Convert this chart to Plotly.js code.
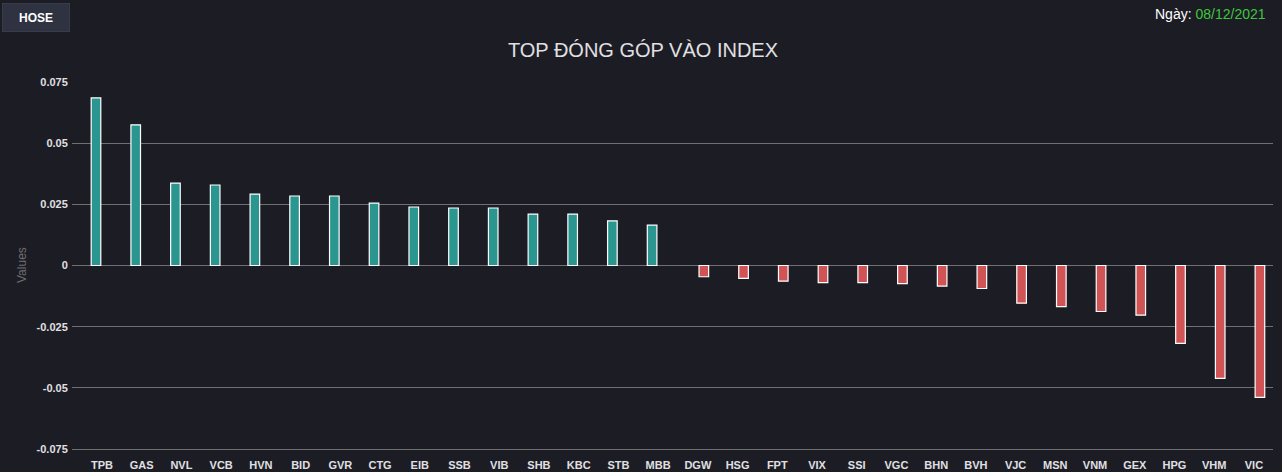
<!DOCTYPE html>
<html>
<head>
<meta charset="utf-8">
<script src="https://cdn.plot.ly/plotly-3.0.1.min.js"></script>
<style>
html,body{margin:0;padding:0;background:#1c1c25;}
#chart{width:1282px;height:472px;}
</style>
</head>
<body>
<div id="chart"></div>
<script>
const categories = ["TPB","GAS","NVL","VCB","HVN","BID","GVR","CTG","EIB","SSB","VIB","SHB","KBC","STB","MBB",
  "DGW","HSG","FPT","VIX","SSI","VGC","BHN","BVH","VJC","MSN","VNM","GEX","HPG","VHM","VIC"];
const positiveValues = [0.0685,0.0575,0.0337,0.0329,0.0292,0.0284,0.0284,0.0255,0.0239,0.0235,0.0235,0.0210,0.0210,0.0182,0.0165,
  null,null,null,null,null,null,null,null,null,null,null,null,null,null,null];
const negativeValues = [null,null,null,null,null,null,null,null,null,null,null,null,null,null,null,
  -0.0046,-0.0053,-0.0064,-0.0070,-0.0070,-0.0074,-0.0084,-0.0094,-0.0154,-0.0168,-0.0188,-0.0203,-0.0318,-0.0461,-0.0539];
const yTickValues = [0.075,0.05,0.025,0,-0.025,-0.05,-0.075];
const yTickLabels = ["0.075","0.05","0.025","0","-0.025","-0.05","-0.075"];
const chartTitle = "TOP ĐÓNG GÓP VÀO INDEX";
const exchangeLabel = "HOSE";
const dateLabel = "08/12/2021";

const W = 1282, H = 472, L = 72, R = 9, T = 82, B = 23;
const pw = W - L - R, ph = H - T - B;
const px = v => (v - L) / pw;      // container px -> paper x
const py = v => 1 - (v - T) / ph;  // container px -> paper y

const traces = [
  {type:'bar', x:categories, y:positiveValues, name:'Tăng',
   marker:{color:'#2a968f', line:{color:'#ffffff', width:1.2}}, hoverinfo:'x+y'},
  {type:'bar', x:categories, y:negativeValues, name:'Giảm',
   marker:{color:'#d05456', line:{color:'#ffffff', width:1.2}}, hoverinfo:'x+y'}
];

const layout = {
  width:W, height:H,
  margin:{l:L, r:R, t:T, b:B, pad:0},
  paper_bgcolor:'#1c1c25', plot_bgcolor:'#1c1c25',
  showlegend:false,
  barmode:'group', bargap:0.396, bargroupgap:0.2,
  font:{family:'Arial, "Liberation Sans", sans-serif', color:'#e0e0e3'},
  title:{text:chartTitle, font:{size:20, color:'#e0e0e3'},
         xref:'container', x:643/W, xanchor:'center',
         yref:'container', y:1 - 50/H, yanchor:'middle'},
  xaxis:{type:'category', range:[-0.755, 29.48], showgrid:false, zeroline:false,
         showline:true, linecolor:'#707073', linewidth:1,
         ticks:'outside', ticklen:6, tickcolor:'rgba(0,0,0,0)', fixedrange:true,
         tickfont:{size:11, color:'#e0e0e3', weight:'bold'}},
  yaxis:{range:[-0.075,0.075], tickvals:yTickValues, ticktext:yTickLabels,
         showgrid:true, gridcolor:'#707073', gridwidth:1,
         zeroline:true, zerolinecolor:'#707073', zerolinewidth:1,
         showline:false, ticks:'outside', ticklen:1, tickcolor:'rgba(0,0,0,0)',
         tickfont:{size:11, color:'#e0e0e3', weight:'bold'}, fixedrange:true},
  annotations:[
    {text:'Values', xref:'paper', yref:'paper', x:px(22), y:py(265),
     xanchor:'center', yanchor:'middle', textangle:-90, showarrow:false,
     font:{size:12, color:'#707073'}},
    {text:'<b>'+exchangeLabel+'</b>', xref:'paper', yref:'paper', x:px(2), y:py(3),
     xanchor:'left', yanchor:'top', showarrow:false, width:66, height:27,
     bgcolor:'#2f3241', bordercolor:'#383b4a', borderwidth:1, borderpad:0,
     font:{size:12, color:'#ffffff'}},
    {text:'Ngày: <span style="color:#3ec63e">'+dateLabel+'</span>', xref:'paper', yref:'paper',
     x:px(1268), y:py(14), xanchor:'right', yanchor:'middle', showarrow:false,
     font:{size:14, color:'#ffffff'}}
  ]
};

Plotly.newPlot('chart', traces, layout, {displayModeBar:false, staticPlot:true});
</script>
</body>
</html>
